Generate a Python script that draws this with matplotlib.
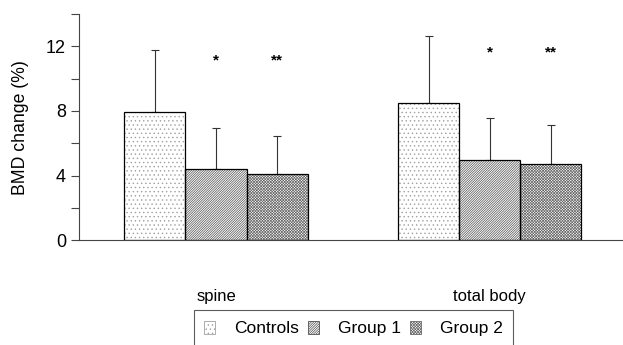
import numpy as np
import matplotlib.pyplot as plt

plt.rcParams['font.family'] = ['Liberation Sans', 'DejaVu Sans']
plt.rcParams['hatch.linewidth'] = 0.5

sites = ['spine', 'total body']
groups = ['Controls', 'Group 1', 'Group 2']
means = {
    'Controls': [7.95, 8.5],
    'Group 1': [4.42, 4.98],
    'Group 2': [4.12, 4.72],
}
errs = {
    'Controls': [3.8, 4.15],
    'Group 1': [2.5, 2.6],
    'Group 2': [2.3, 2.4],
}
stars = {'Group 1': ['*', '*'], 'Group 2': ['**', '**']}
star_y = [11.1, 11.6]

hatches = {'Controls': '....', 'Group 1': '/' * 14, 'Group 2': 'x' * 12}
hatch_col = {'Controls': '#a0a0a0', 'Group 1': '#505050', 'Group 2': '#6a6a6a'}

fig = plt.figure(figsize=(6.23, 3.45), dpi=100)
ax = fig.add_axes([0.127, 0.304, 0.873, 0.655])

centers = np.array([0.0, 4.48])
offsets = [-1, 0, 1]

for g, off in zip(groups, offsets):
    x = centers + off
    ax.bar(x, means[g], width=1.0, color='white', hatch=hatches[g],
           edgecolor=hatch_col[g], linewidth=0, zorder=2)
    ax.bar(x, means[g], width=1.0, fill=False, edgecolor='black',
           linewidth=0.9, zorder=3)
    ax.errorbar(x, means[g], yerr=[np.zeros(2), errs[g]], fmt='none',
                ecolor='#333333', elinewidth=0.8, capsize=3, capthick=0.8,
                zorder=1)
    if g in stars:
        for xi, s, yy in zip(x, stars[g], star_y):
            ax.text(xi, yy, s, ha='center', va='center', fontsize=11,
                    fontweight='bold')

ax.set_xlim(-2.24, 6.66)
ax.set_ylim(0, 14)
ax.set_yticks([0, 2, 4, 6, 8, 10, 12, 14])
ax.set_yticklabels(['0', '', '4', '', '8', '', '12', ''], fontsize=13)
ax.set_xticks(centers)
ax.set_xticklabels(sites, fontsize=12)
ax.tick_params(axis='x', length=0, pad=35)
ax.tick_params(axis='y', length=6, width=0.8, color='#444444')
for side in ['top', 'right']:
    ax.spines[side].set_visible(False)
ax.spines['left'].set_color('#444444')
ax.spines['bottom'].set_color('#444444')
ax.set_ylabel('BMD change (%)', fontsize=12.7, labelpad=12)

handles = [plt.Rectangle((0, 0), 1, 1, facecolor='white', hatch=hatches[g],
                         edgecolor=hatch_col[g], linewidth=0.6) for g in groups]
leg = fig.legend(handles, groups, loc='upper left',
                 bbox_to_anchor=(0.311, 0.101), ncol=3, fontsize=12.5,
                 frameon=True, fancybox=False, edgecolor='#333333',
                 handlelength=0.6, handleheight=0.8, handletextpad=1.1,
                 columnspacing=0.55, borderpad=0.6, borderaxespad=0)
leg.get_frame().set_linewidth(0.8)

fig.savefig('out.png', dpi=100)
